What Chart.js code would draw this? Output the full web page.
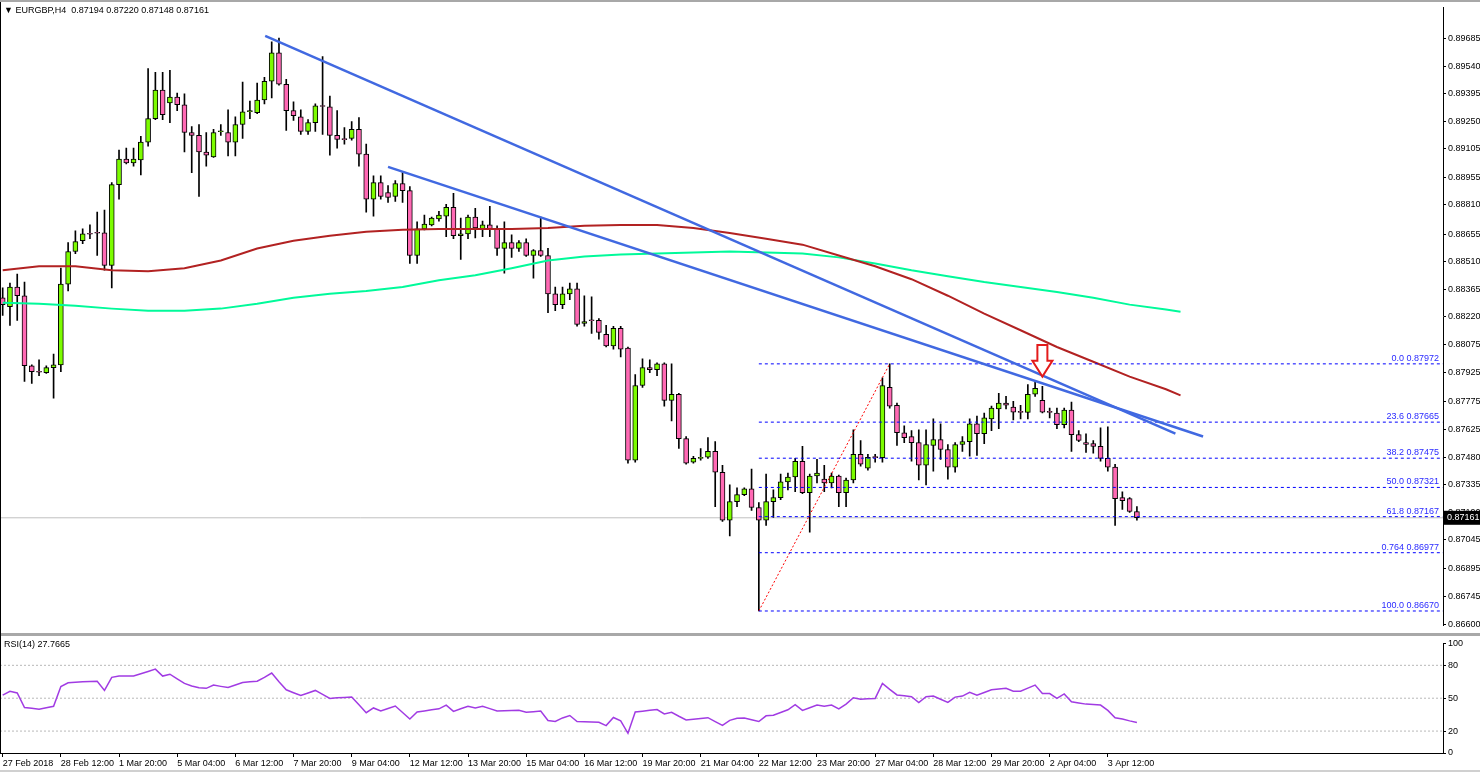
<!DOCTYPE html>
<html>
<head>
<meta charset="utf-8">
<script src="https://cdn.jsdelivr.net/npm/chart.js@4.4.1/dist/chart.umd.min.js"></script>
<style>
  body { margin: 0; background: #fff; width: 1480px; height: 772px; overflow: hidden; position: relative; font-family: 'Liberation Sans', Arial, sans-serif; }
  canvas { position: absolute; left: 0; }
  #main { top: 0; }
  #rsi { top: 636px; }
  .lbl { position: absolute; font-size: 9px; color: #000; white-space: pre; }
  .bar { position: absolute; background: #a8a8a8; }
</style>
</head>
<body>
<canvas id="main" width="1480" height="633"></canvas>
<canvas id="rsi" width="1480" height="136"></canvas>
<div class="bar" style="left:0;top:0;width:1480px;height:2px"></div>
<div class="bar" style="left:0;top:633px;width:1480px;height:3px"></div>
<div class="bar" style="left:0;top:770px;width:1480px;height:2px;background:#d0d0d0"></div>
<div style="position:absolute;left:0;top:2px;width:1px;height:751px;background:#000"></div>
<div class="lbl" style="left:4px;top:5px">▼ EURGBP,H4  0.87194 0.87220 0.87148 0.87161</div>
<div class="lbl" style="left:4px;top:639px">RSI(14) 27.7665</div>
<script>
// EURGBP H4 candles, one per 4 hours (index 0 = 27 Feb 2018)
let opens = [0.88320,0.88273,0.88377,0.88331,0.87962,0.87931,0.87926,0.87952,0.87967,0.88392,
  0.88564,0.88621,0.88657,0.88662,0.88662,0.88491,0.88916,0.89051,0.89030,0.89046,
  0.89140,0.89264,0.89414,0.89347,0.89378,0.89337,0.89191,0.89176,0.89088,0.89062,
  0.89195,0.89191,0.89140,0.89233,0.89300,0.89295,0.89362,0.89461,0.89611,0.89445,
  0.89306,0.89274,0.89197,0.89243,0.89331,0.89326,0.89176,0.89155,0.89160,0.89207,
  0.89077,0.88839,0.88927,0.88875,0.88854,0.88922,0.88885,0.88543,0.88683,0.88704,
  0.88735,0.88750,0.88797,0.88647,0.88657,0.88745,0.88683,0.88704,0.88683,0.88580,
  0.88611,0.88580,0.88611,0.88543,0.88569,0.88543,0.88341,0.88284,0.88341,0.88367,
  0.88185,0.88201,0.88201,0.88128,0.88066,0.88159,0.88055,0.87464,0.87858,0.87952,
  0.87941,0.87972,0.87780,0.87812,0.87578,0.87454,0.87474,0.87480,0.87511,0.87401,
  0.87148,0.87246,0.87283,0.87314,0.87215,0.87148,0.87246,0.87267,0.87350,0.87376,
  0.87459,0.87293,0.87381,0.87365,0.87345,0.87381,0.87293,0.87360,0.87495,0.87422,
  0.87480,0.87478,0.87848,0.87754,0.87609,0.87589,0.87557,0.87438,0.87542,0.87573,
  0.87521,0.87428,0.87547,0.87562,0.87656,0.87604,0.87682,0.87734,0.87765,0.87744,
  0.87718,0.87716,0.87812,0.87780,0.87718,0.87713,0.87651,0.87729,0.87599,0.87557,
  0.87552,0.87537,0.87474,0.87428,0.87267,0.87262,0.87194];
let highs = [0.88372,0.88398,0.88445,0.88403,0.87967,0.87993,0.87962,0.88024,0.88476,0.88611,
  0.88673,0.88683,0.88704,0.88771,0.88782,0.88927,0.89098,0.89109,0.89109,0.89171,
  0.89528,0.89508,0.89508,0.89518,0.89399,0.89394,0.89222,0.89233,0.89191,0.89207,
  0.89233,0.89311,0.89274,0.89456,0.89357,0.89451,0.89482,0.89669,0.89689,0.89471,
  0.89352,0.89311,0.89259,0.89342,0.89591,0.89383,0.89306,0.89217,0.89248,0.89269,
  0.89130,0.88963,0.88963,0.88911,0.88937,0.88984,0.88906,0.88720,0.88756,0.88745,
  0.88776,0.88813,0.88870,0.88740,0.88756,0.88792,0.88724,0.88802,0.88699,0.88720,
  0.88652,0.88621,0.88631,0.88574,0.88745,0.88580,0.88377,0.88377,0.88398,0.88398,
  0.88331,0.88325,0.88211,0.88175,0.88170,0.88170,0.88061,0.87915,0.87998,0.87993,
  0.87977,0.87977,0.87972,0.87817,0.87589,0.87485,0.87526,0.87583,0.87562,0.87438,
  0.87334,0.87319,0.87319,0.87417,0.87241,0.87391,0.87308,0.87391,0.87396,0.87474,
  0.87537,0.87391,0.87469,0.87438,0.87396,0.87386,0.87370,0.87625,0.87568,0.87495,
  0.87495,0.87899,0.87972,0.87765,0.87646,0.87620,0.87625,0.87625,0.87682,0.87656,
  0.87547,0.87557,0.87589,0.87682,0.87697,0.87713,0.87749,0.87817,0.87801,0.87775,
  0.87754,0.87863,0.87884,0.87853,0.87739,0.87739,0.87739,0.87770,0.87620,0.87604,
  0.87568,0.87635,0.87640,0.87443,0.87298,0.87267,0.87220];
let lows = [0.88227,0.88175,0.88201,0.87879,0.87869,0.87910,0.87921,0.87791,0.87931,0.88356,
  0.88553,0.88605,0.88631,0.88543,0.88465,0.88372,0.88839,0.89025,0.89014,0.88968,
  0.89119,0.89259,0.89259,0.89243,0.89306,0.89088,0.88979,0.88854,0.89014,0.89060,
  0.89176,0.89067,0.89067,0.89160,0.89264,0.89290,0.89342,0.89373,0.89440,0.89202,
  0.89254,0.89181,0.89181,0.89197,0.89181,0.89072,0.89109,0.89130,0.89150,0.89014,
  0.88771,0.88750,0.88839,0.88823,0.88828,0.88823,0.88501,0.88501,0.88678,0.88699,
  0.88724,0.88642,0.88631,0.88522,0.88631,0.88636,0.88642,0.88642,0.88543,0.88450,
  0.88533,0.88564,0.88538,0.88424,0.88538,0.88242,0.88252,0.88263,0.88310,0.88170,
  0.88170,0.88133,0.88102,0.88061,0.88050,0.88009,0.87449,0.87454,0.87848,0.87926,
  0.87910,0.87749,0.87672,0.87526,0.87443,0.87449,0.87464,0.87474,0.87220,0.87142,
  0.87065,0.87220,0.87277,0.87200,0.86670,0.87121,0.87163,0.87256,0.87308,0.87298,
  0.87288,0.87085,0.87345,0.87298,0.87319,0.87220,0.87220,0.87345,0.87433,0.87412,
  0.87454,0.87454,0.87739,0.87542,0.87557,0.87459,0.87360,0.87334,0.87407,0.87469,
  0.87365,0.87401,0.87511,0.87485,0.87490,0.87552,0.87620,0.87630,0.87734,0.87677,
  0.87682,0.87682,0.87801,0.87713,0.87687,0.87630,0.87635,0.87511,0.87562,0.87506,
  0.87501,0.87459,0.87407,0.87121,0.87205,0.87189,0.87148];
let closes = [0.88284,0.88377,0.88331,0.87962,0.87931,0.87928,0.87952,0.87967,0.88392,0.88564,
  0.88616,0.88657,0.88655,0.88660,0.88491,0.88916,0.89051,0.89030,0.89051,0.89140,
  0.89264,0.89414,0.89285,0.89378,0.89337,0.89191,0.89176,0.89088,0.89072,0.89191,
  0.89197,0.89140,0.89233,0.89300,0.89306,0.89362,0.89461,0.89611,0.89445,0.89306,
  0.89280,0.89197,0.89243,0.89331,0.89328,0.89176,0.89155,0.89153,0.89207,0.89077,
  0.88839,0.88927,0.88854,0.88849,0.88922,0.88885,0.88543,0.88683,0.88709,0.88740,
  0.88756,0.88797,0.88647,0.88657,0.88745,0.88688,0.88704,0.88683,0.88580,0.88611,
  0.88580,0.88611,0.88543,0.88569,0.88543,0.88341,0.88284,0.88341,0.88367,0.88180,
  0.88195,0.88199,0.88138,0.88066,0.88159,0.88050,0.87464,0.87858,0.87952,0.87941,
  0.87972,0.87780,0.87812,0.87578,0.87449,0.87474,0.87480,0.87511,0.87401,0.87148,
  0.87246,0.87283,0.87314,0.87215,0.87148,0.87246,0.87267,0.87350,0.87376,0.87459,
  0.87293,0.87381,0.87396,0.87345,0.87381,0.87293,0.87360,0.87495,0.87443,0.87480,
  0.87478,0.87858,0.87749,0.87609,0.87583,0.87557,0.87438,0.87547,0.87573,0.87521,
  0.87428,0.87547,0.87562,0.87656,0.87604,0.87687,0.87739,0.87765,0.87754,0.87718,
  0.87716,0.87812,0.87843,0.87718,0.87716,0.87651,0.87729,0.87599,0.87568,0.87547,
  0.87537,0.87474,0.87428,0.87262,0.87251,0.87194,0.87161];

// RSI(14), one value per candle
let rsi = [52.8,56.3,54.8,41.5,40.8,40,41.3,42.6,60.6,64.1,
  64.6,65,65.3,65.5,57.1,69,70.2,70.2,70.2,72.3,
  74.4,76.5,70.2,71.9,67.7,63.5,61.2,59.5,59,62,
  60.8,59.7,62,64.3,65,65.5,69,73,65,57.7,
  55,52.4,54.8,57.1,53.5,49.8,50.3,50.7,51,44,
  36.8,41.1,38.3,40.6,42.9,37,31,37.4,38.4,39.4,
  40.3,43.7,38,40.3,42.6,41.1,42.6,40.5,38.3,38.5,
  38.7,38.9,37.1,37.7,38.3,29.6,28.7,32,34.2,28.7,
  28.5,28.3,28.1,25,32.4,29.3,18,37.4,38.2,39,
  39.7,35.7,37.1,33.5,30.2,30.9,31.5,32.2,28.7,25.2,
  29.8,31.6,32,30.3,28.7,33.9,34.5,37,39.4,44.1,
  38.9,41.3,43.7,42.6,43.7,40.3,44.6,50.4,49,49.4,
  49.8,63.5,58,53,52.2,51.3,46.1,51.3,51.9,49,
  46.1,51,51.9,55.4,52.8,55.2,57.7,58.4,59.1,56.3,
  56.3,59.2,62,54.2,54.2,49.8,53.9,46.7,45.6,44.6,
  44.2,43.7,38.9,32.2,31,29.3,27.8];

// moving averages (drawn shifted forward), sampled every 5 bars
let maIdx = [0,5,10,15,20,25,30,35,40,45,50,55,60,65,70,75,80,85,90,95,100,105,110,115,120,125,130,135,140,145,150,155,160,162];
let maRed = [0.88465,0.88486,0.88486,0.88465,0.88460,0.88476,0.88517,0.88580,0.88621,0.88647,0.88668,0.88678,0.88683,0.88683,0.88683,0.88688,0.88699,0.88704,0.88704,0.88688,0.88662,0.88631,0.88600,0.88543,0.88486,0.88418,0.88331,0.88237,0.88149,0.88061,0.87983,0.87905,0.87838,0.87806];
let maGreen = [0.88294,0.88289,0.88278,0.88263,0.88252,0.88252,0.88263,0.88289,0.88320,0.88341,0.88356,0.88377,0.88413,0.88439,0.88476,0.88517,0.88538,0.88548,0.88553,0.88559,0.88564,0.88559,0.88553,0.88533,0.88501,0.88465,0.88434,0.88403,0.88377,0.88351,0.88320,0.88284,0.88258,0.88247];

// trend lines and fibonacci
let trendAIdx = [36.1, 161.3], trendAPrice = [0.89700, 0.87604];
let trendBIdx = [53.0, 165.1], trendBPrice = [0.89010, 0.87589];
let fibNames = ['0.0', '23.6', '38.2', '50.0', '61.8', '0.764', '100.0'];
let fibLevels = [0.87972, 0.87665, 0.87475, 0.87321, 0.87167, 0.86977, 0.86670];
let fibIdx = [104, 122];
let bidPrice = 0.87161;
let arrowIdx = 143, arrowTop = 0.88071, arrowTip = 0.87905;

// axis ticks
let priceTicks = [0.89685,0.89540,0.89395,0.89250,0.89105,0.88955,0.88810,0.88655,0.88510,0.88365,0.88220,0.88075,0.87925,0.87775,0.87625,0.87480,0.87335,0.87190,0.87045,0.86895,0.86745,0.86600];
let rsiTicks = [0, 20, 50, 80, 100];
let rsiLevels = [20, 50, 80];
let timeIdx = [0,8,16,24,32,40,48,56,64,72,80,88,96,104,112,120,128,136,144,152];
let timeLabels = ['27 Feb 2018','28 Feb 12:00','1 Mar 20:00','5 Mar 04:00','6 Mar 12:00','7 Mar 20:00','9 Mar 04:00','12 Mar 12:00','13 Mar 20:00','15 Mar 04:00','16 Mar 12:00','19 Mar 20:00','21 Mar 04:00','22 Mar 12:00','23 Mar 20:00','27 Mar 04:00','28 Mar 12:00','29 Mar 20:00','2 Apr 04:00','3 Apr 12:00'];

Chart.defaults.font.family = "'Liberation Sans', Arial, sans-serif";
Chart.defaults.font.size = 9;
Chart.defaults.color = '#000';

const xMin = -0.37, xMax = 198.1;
const axisFont = { size: 9 };

function line(xs, ys, color, width, dash, order) {
  return {
    type: 'line',
    data: xs.map((v, k) => ({ x: v, y: ys[k] })),
    borderColor: color, borderWidth: width, borderDash: dash || [],
    pointRadius: 0, tension: 0, fill: false, order: order
  };
}

const idx = closes.map((_, i) => i);
const wickData = idx.map(i => ({ x: i, y: [lows[i], highs[i]] }));
const bodyData = idx.map(i => ({ x: i, y: [Math.min(opens[i], closes[i]), Math.max(opens[i], closes[i])] }));
const bodyColors = idx.map(i => closes[i] > opens[i] ? '#7cfc00' : (closes[i] < opens[i] ? '#ff69b4' : '#000'));

let datasets = [
  line([xMin, xMax], [bidPrice, bidPrice], '#c0c0c0', 1, [], 9),
  { type: 'bar', data: wickData, backgroundColor: '#000', barThickness: 1, grouped: false, order: 8 },
  { type: 'bar', data: bodyData, backgroundColor: bodyColors, borderColor: '#000', borderWidth: 1,
    borderSkipped: false, barThickness: 5, minBarLength: 1, grouped: false, order: 7 },
  line(maIdx, maRed, '#b22222', 2, [], 5),
  line(maIdx, maGreen, '#00fa9a', 2, [], 5),
  line(fibIdx, [fibLevels[6], fibLevels[0]], '#ff0000', 1, [2, 2], 4),
  line(trendAIdx, trendAPrice, '#4169e1', 2.5, [], 2),
  line(trendBIdx, trendBPrice, '#4169e1', 2.5, [], 2)
];
fibLevels.forEach(lv => datasets.push(line([fibIdx[0], xMax], [lv, lv], '#0000ff', 1, [3, 3], 3)));

const overlay = {
  id: 'overlay',
  afterDatasetsDraw(chart) {
    const { ctx, chartArea } = chart;
    const x = chart.scales.x, y = chart.scales.y;
    ctx.save();
    ctx.font = "9px 'Liberation Sans', Arial";
    ctx.fillStyle = '#2a2aff';
    ctx.textAlign = 'right';
    ctx.textBaseline = 'bottom';
    fibLevels.forEach((lv, k) => {
      ctx.fillText(fibNames[k] + ' ' + lv.toFixed(5), chartArea.right - 4, y.getPixelForValue(lv) - 1);
    });
    // red arrow
    const ax = x.getPixelForValue(arrowIdx);
    const t = y.getPixelForValue(arrowTop), b = y.getPixelForValue(arrowTip);
    const neck = t + (b - t) * 0.5;
    ctx.beginPath();
    ctx.moveTo(ax - 5, t); ctx.lineTo(ax + 5, t); ctx.lineTo(ax + 5, neck);
    ctx.lineTo(ax + 10, neck); ctx.lineTo(ax, b); ctx.lineTo(ax - 10, neck);
    ctx.lineTo(ax - 5, neck); ctx.closePath();
    ctx.fillStyle = '#fff'; ctx.fill();
    ctx.strokeStyle = '#e31b1b'; ctx.lineWidth = 2; ctx.stroke();
    ctx.restore();
  },
  afterDraw(chart) {
    const { ctx, chartArea } = chart;
    const py = chart.scales.y.getPixelForValue(bidPrice);
    ctx.save();
    ctx.fillStyle = '#000';
    ctx.fillRect(chartArea.right + 1, py - 7, 37, 14);
    ctx.fillStyle = '#fff';
    ctx.font = "9px 'Liberation Sans', Arial";
    ctx.textBaseline = 'middle';
    ctx.fillText(bidPrice.toFixed(5), chartArea.right + 4, py);
    ctx.restore();
  }
};

new Chart(document.getElementById('main'), {
  type: 'bar',
  data: { datasets: datasets },
  options: {
    animation: false, responsive: false, devicePixelRatio: 1,
    layout: { padding: { top: 5, left: 0, right: 0, bottom: 0 } },
    plugins: { legend: { display: false }, tooltip: { enabled: false } },
    scales: {
      x: { type: 'linear', min: xMin, max: xMax, offset: false, display: false },
      y: {
        position: 'right', min: 0.86593, max: 0.89850,
        afterBuildTicks(s) { s.ticks = priceTicks.map(v => ({ value: v })); },
        afterFit(s) { s.width = 37; },
        ticks: { font: axisFont, color: '#000', padding: 2, callback: v => v.toFixed(5) },
        grid: { drawOnChartArea: false, drawTicks: true, tickLength: 3, color: '#000' },
        border: { display: true, color: '#000' }
      }
    }
  },
  plugins: [overlay]
});

let rsiSets = [line(idx, rsi, '#a13be3', 1.5, [], 1)];
rsiLevels.forEach(lv => rsiSets.push(line([xMin, xMax], [lv, lv], '#b8b8b8', 1, [2, 2], 2)));

new Chart(document.getElementById('rsi'), {
  type: 'line',
  data: { datasets: rsiSets },
  options: {
    animation: false, responsive: false, devicePixelRatio: 1,
    layout: { padding: { top: 2, left: 0, right: 0, bottom: 0 } },
    plugins: { legend: { display: false }, tooltip: { enabled: false } },
    scales: {
      x: {
        type: 'linear', min: xMin, max: xMax, offset: false,
        afterBuildTicks(s) { s.ticks = timeIdx.map(v => ({ value: v })); },
        afterFit(s) { s.height = 19; },
        ticks: { autoSkip: false, maxRotation: 0, align: 'start', padding: 1, font: axisFont, color: '#000',
                 callback: (v, k) => timeLabels[k] },
        grid: { drawOnChartArea: false, drawTicks: true, tickLength: 4, color: '#000' },
        border: { display: true, color: '#000' }
      },
      y: {
        position: 'right', min: 0, max: 100,
        afterBuildTicks(s) { s.ticks = rsiTicks.map(v => ({ value: v })); },
        afterFit(s) { s.width = 37; },
        ticks: { font: axisFont, color: '#000', padding: 2 },
        grid: { drawOnChartArea: false, drawTicks: true, tickLength: 3, color: '#000' },
        border: { display: true, color: '#000' }
      }
    }
  }
});
</script>
</body>
</html>
